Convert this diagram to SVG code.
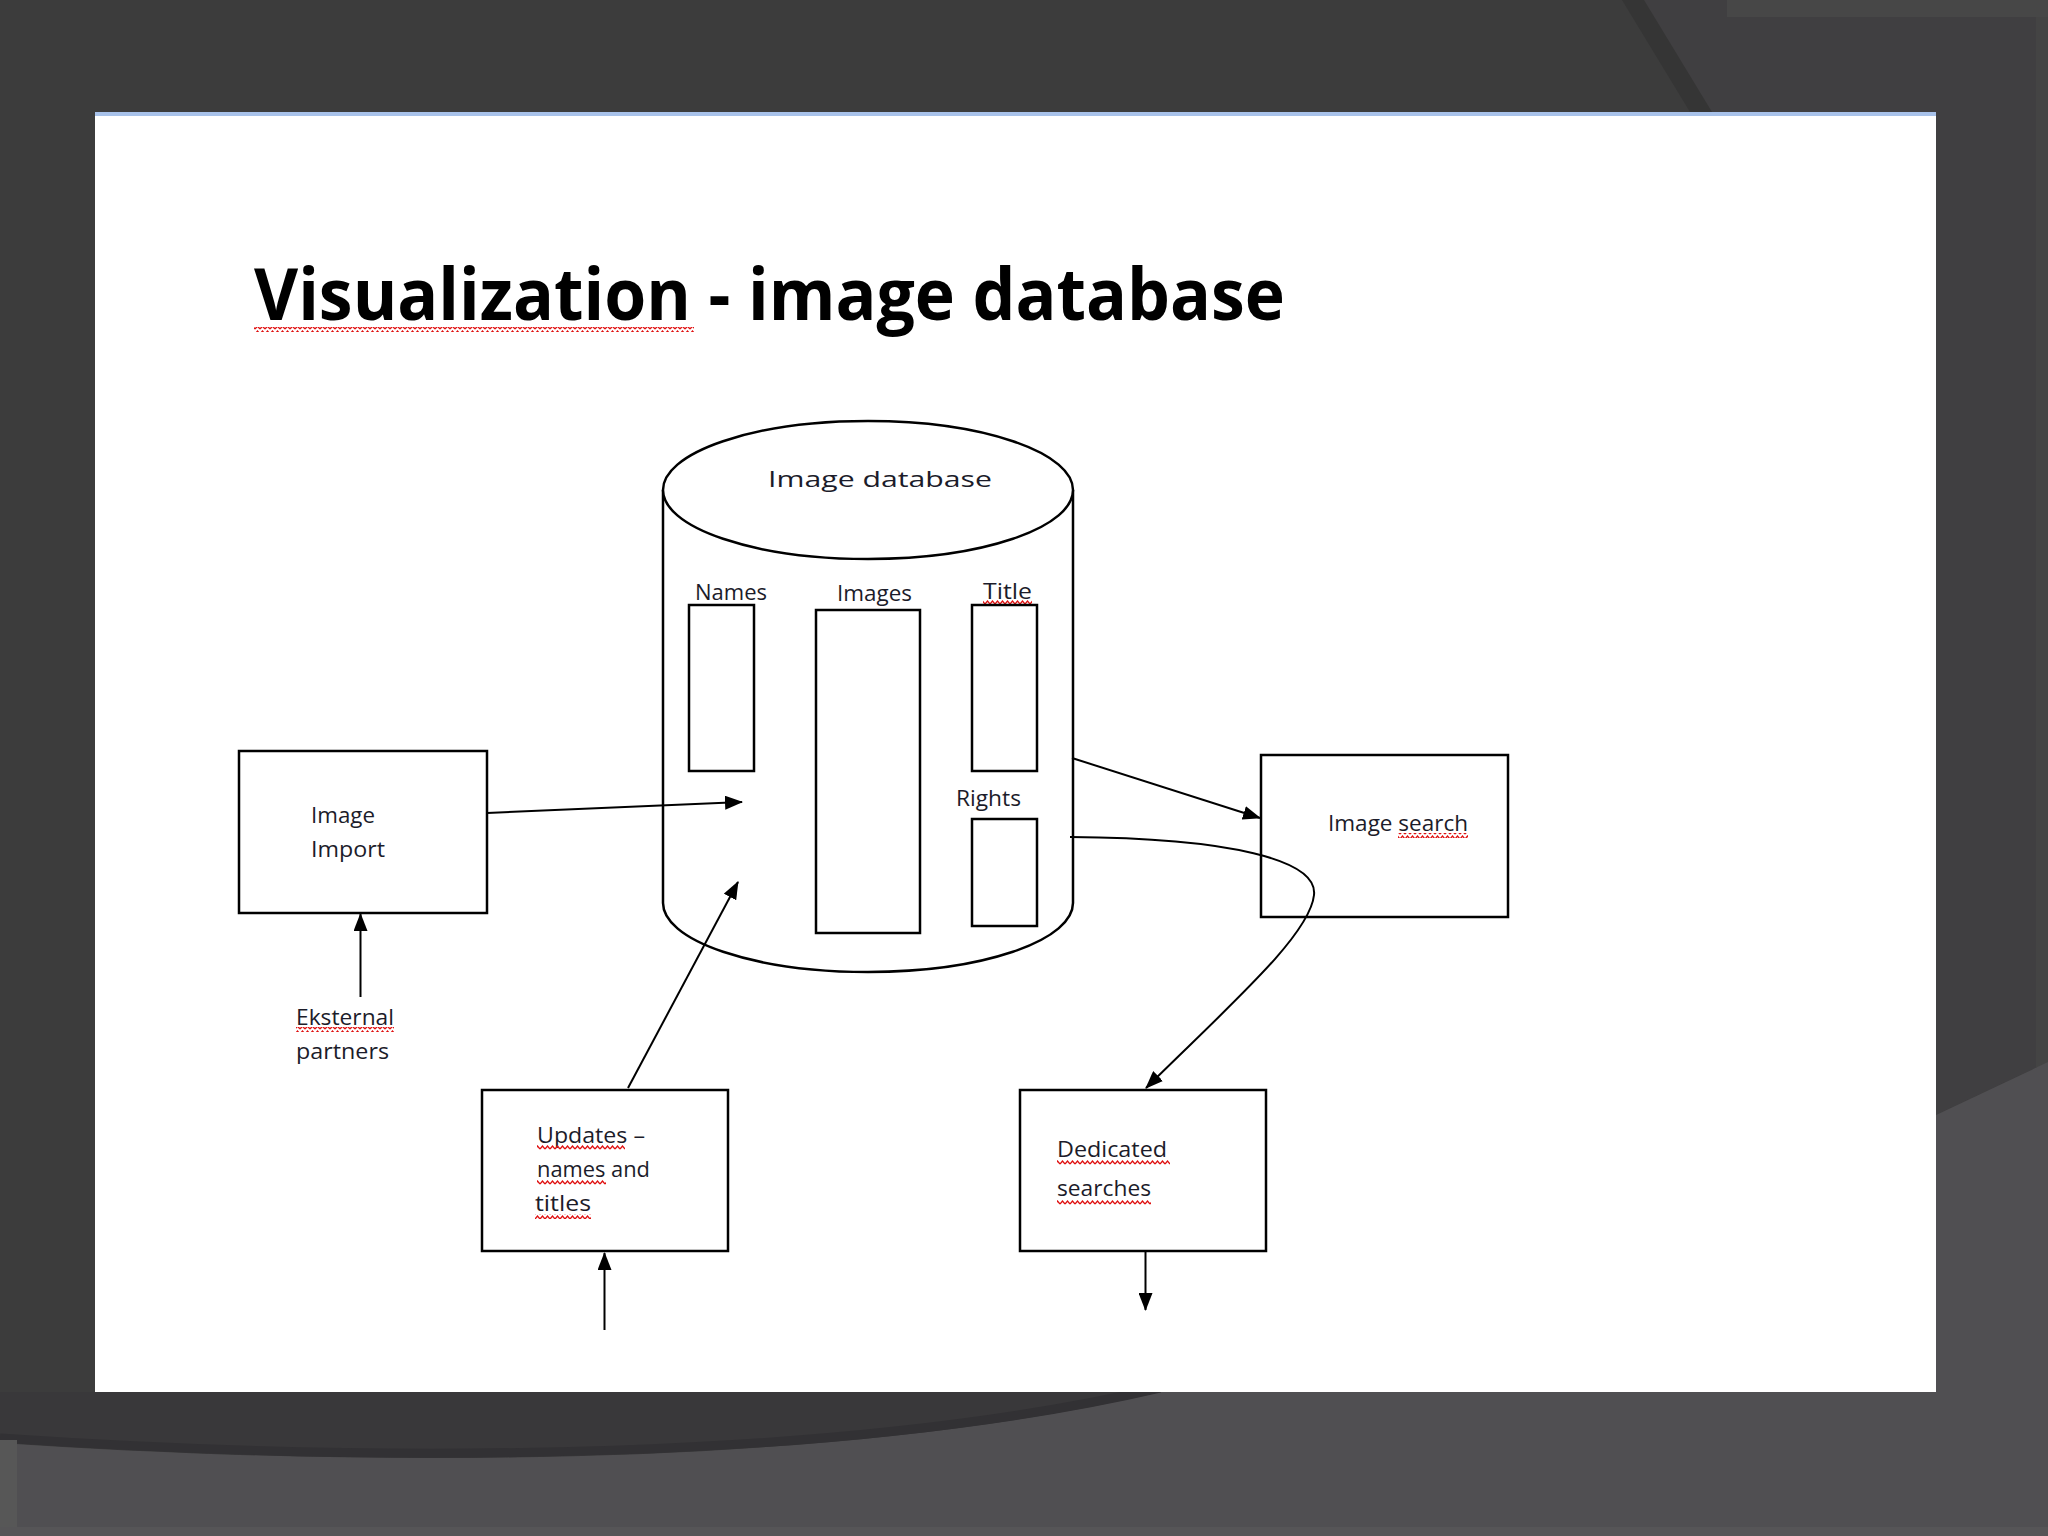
<svg xmlns="http://www.w3.org/2000/svg" width="2048" height="1536" viewBox="0 0 2048 1536">
  <defs>
    <marker id="arrow" viewBox="0 0 18 14" refX="17" refY="7" markerWidth="18" markerHeight="14" markerUnits="userSpaceOnUse" orient="auto">
      <path d="M0,0 L18,7 L0,14 Z" fill="#000"/>
    </marker>
    <pattern id="squiggle" patternUnits="userSpaceOnUse" width="5" height="5">
      <path d="M0,4 L2.5,1 L5,4" fill="none" stroke="#e01010" stroke-width="1.3"/>
    </pattern>
  </defs>
  <style>
    .box { fill: #fff; stroke: #000; stroke-width: 2.5; }
    .col { fill: #fff; stroke: #000; stroke-width: 2.5; }
    .lbl { font-family: "Open Sans", "Noto Sans", "Liberation Sans", sans-serif; font-size: 22px; fill: #1c1c2a; }
    .conn { fill: none; stroke: #000; stroke-width: 2; }
    .sq { fill: url(#squiggle); }
  </style>

  <!-- background -->
  <rect x="0" y="0" width="2048" height="1536" fill="#3c3c3c"/>
  <polygon points="1640,0 2048,0 2048,1062 1936,1115 1936,112 1705,112" fill="#403f41"/>
  <polygon points="1622,0 1644,0 1712,112 1690,112" fill="#353535"/>
  <rect x="1727" y="0" width="321" height="17" fill="#474747"/>
  <rect x="2036" y="17" width="12" height="1050" fill="#444444"/>
  <path d="M0,1392 L1160,1392 C850,1465 400,1470 0,1443 Z" fill="#39383a"/>
  <path d="M0,1443 C400,1470 850,1465 1160,1392 L1936,1392 L1936,1115 L2048,1062 L2048,1536 L0,1536 Z" fill="#504f52"/>
  <path d="M0,1438 C400,1465 850,1460 1160,1388" fill="none" stroke="#323134" stroke-width="9"/>
  <rect x="0" y="1440" width="17" height="96" fill="#575757"/>
  <rect x="0" y="1527" width="2048" height="9" fill="#565557"/>

  <!-- slide -->
  <rect x="95" y="112" width="1841" height="1280" fill="#ffffff"/>
  <rect x="95" y="112" width="1841" height="4" fill="#a8c2ea"/>

  <!-- title -->
  <g id="title">
    <text x="254" y="320" font-family="'Open Sans', 'Noto Sans', 'Liberation Sans', sans-serif" font-weight="bold" font-size="72" fill="#000" textLength="1031" lengthAdjust="spacingAndGlyphs">Visualization - image database</text>
    <rect class="sq" x="254" y="327" width="440" height="5"/>
  </g>

  <!-- image database cylinder -->
  <g id="image-database">
    <path class="col" d="M663,490 L663,903 A205,69 0 0 0 1073,903 L1073,490"/>
    <ellipse class="col" cx="868" cy="490" rx="205" ry="69"/>
    <text class="lbl" x="768" y="487" font-size="29" textLength="224" lengthAdjust="spacingAndGlyphs">Image database</text>
  </g>

  <g id="names">
    <text class="lbl" x="695" y="600" textLength="72" lengthAdjust="spacingAndGlyphs">Names</text>
    <rect class="box" x="689" y="605" width="65" height="166"/>
  </g>
  <g id="images">
    <text class="lbl" x="837" y="601" textLength="75" lengthAdjust="spacingAndGlyphs">Images</text>
    <rect class="box" x="816" y="610" width="104" height="323"/>
  </g>
  <g id="title-col">
    <text class="lbl" x="983" y="599" textLength="49" lengthAdjust="spacingAndGlyphs">Title</text>
    <rect class="sq" x="983" y="600" width="49" height="5"/>
    <rect class="box" x="972" y="605" width="65" height="166"/>
  </g>
  <g id="rights">
    <text class="lbl" x="956" y="806" textLength="65" lengthAdjust="spacingAndGlyphs">Rights</text>
    <rect class="box" x="972" y="819" width="65" height="107"/>
  </g>

  <!-- image import -->
  <g id="image-import">
    <rect class="box" x="239" y="751" width="248" height="162"/>
    <text class="lbl" x="311" y="823" textLength="64" lengthAdjust="spacingAndGlyphs">Image</text>
    <text class="lbl" x="311" y="857" textLength="74" lengthAdjust="spacingAndGlyphs">Import</text>
  </g>

  <g id="eksternal-partners">
    <text class="lbl" x="296" y="1025" textLength="98" lengthAdjust="spacingAndGlyphs">Eksternal</text>
    <rect class="sq" x="296" y="1027" width="98" height="5"/>
    <text class="lbl" x="296" y="1059" textLength="93" lengthAdjust="spacingAndGlyphs">partners</text>
  </g>

  <!-- image search -->
  <g id="image-search">
    <rect class="box" x="1261" y="755" width="247" height="162"/>
    <text class="lbl" x="1328" y="831" textLength="140" lengthAdjust="spacingAndGlyphs">Image search</text>
    <rect class="sq" x="1398" y="833" width="70" height="5"/>
  </g>

  <!-- updates -->
  <g id="updates">
    <rect class="box" x="482" y="1090" width="246" height="161"/>
    <text class="lbl" x="537" y="1143" textLength="108" lengthAdjust="spacingAndGlyphs">Updates –</text>
    <rect class="sq" x="537" y="1145" width="88" height="5"/>
    <text class="lbl" x="537" y="1177" textLength="113" lengthAdjust="spacingAndGlyphs">names and</text>
    <rect class="sq" x="537" y="1180" width="69" height="5"/>
    <text class="lbl" x="535" y="1211" textLength="56" lengthAdjust="spacingAndGlyphs">titles</text>
    <rect class="sq" x="535" y="1214" width="56" height="5"/>
  </g>

  <!-- dedicated searches -->
  <g id="dedicated-searches">
    <rect class="box" x="1020" y="1090" width="246" height="161"/>
    <text class="lbl" x="1057" y="1157" textLength="110" lengthAdjust="spacingAndGlyphs">Dedicated</text>
    <rect class="sq" x="1057" y="1160" width="113" height="5"/>
    <text class="lbl" x="1057" y="1196" textLength="94" lengthAdjust="spacingAndGlyphs">searches</text>
    <rect class="sq" x="1057" y="1200" width="94" height="5"/>
  </g>

  <!-- connectors -->
  <g id="connectors">
    <line class="conn" x1="487" y1="813" x2="742" y2="802" marker-end="url(#arrow)"/>
    <line class="conn" x1="360.5" y1="997" x2="360.5" y2="914" marker-end="url(#arrow)"/>
    <line class="conn" x1="628" y1="1088" x2="738" y2="882" marker-end="url(#arrow)"/>
    <line class="conn" x1="604.5" y1="1330" x2="604.5" y2="1253" marker-end="url(#arrow)"/>
    <line class="conn" x1="1072" y1="758" x2="1260" y2="818" marker-end="url(#arrow)"/>
    <path class="conn" d="M1070,837 C1230,838 1318,860 1314,895 C1310,935 1230,1005 1146,1088" marker-end="url(#arrow)"/>
    <line class="conn" x1="1145.5" y1="1252" x2="1145.5" y2="1310" marker-end="url(#arrow)"/>
  </g>
</svg>
